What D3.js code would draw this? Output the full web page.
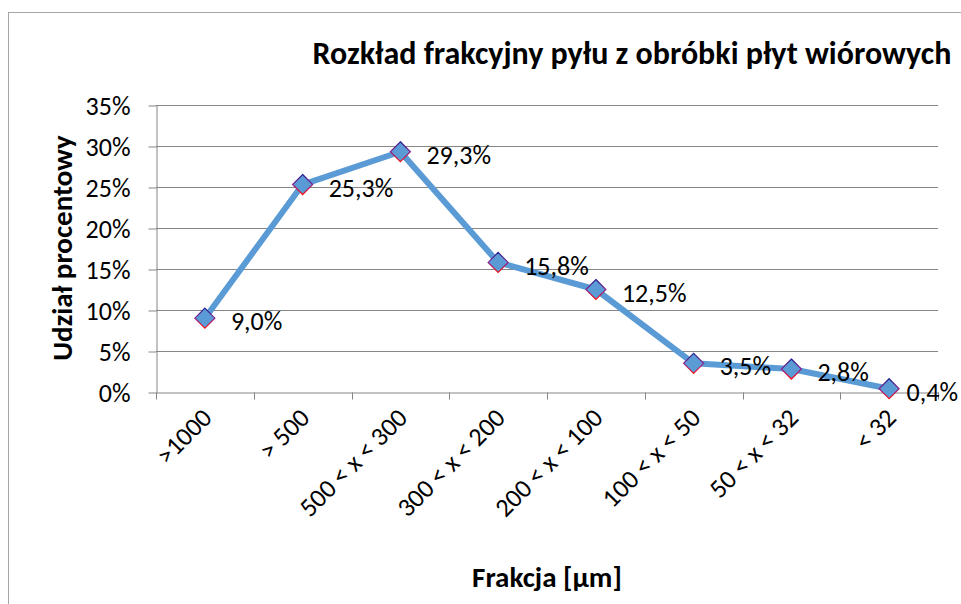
<!DOCTYPE html>
<html lang="pl">
<head>
<meta charset="UTF-8">
<title>Rozkład frakcyjny</title>
<script src="https://d3js.org/d3.v7.min.js"></script>
<style>
  body { margin: 0; background: #fff; }
  svg text { font-family: Carlito, Calibri, Lato, sans-serif; fill: #000; }
  .grid line { stroke: #868686; stroke-width: 1; }
  .axis path, .axis line { stroke: #868686; }
  .axis text { font-size: 26px; }
</style>
</head>
<body>
<script>
const categories = ['>1000', '> 500', '500 < x < 300', '300 < x < 200', '200 < x < 100', '100 < x < 50', '50 < x < 32', '< 32'];
const values = [9.0, 25.3, 29.3, 15.8, 12.5, 3.5, 2.8, 0.4];
const yTicks = [0, 5, 10, 15, 20, 25, 30, 35];

const width = 961, height = 604;
const plot = { left: 156, right: 938, top: 105, bottom: 392 };

const svg = d3.select('body').append('svg').attr('width', width).attr('height', height);

// chart frame
svg.append('rect')
  .attr('x', 8.5).attr('y', 12.5).attr('width', 1000).attr('height', 1000)
  .attr('fill', '#fff').attr('stroke', '#a6a6a6');

const x = d3.scaleBand().domain(categories).range([plot.left, plot.right]);
const y = d3.scaleLinear().domain([0, 35]).range([plot.bottom, plot.top]);

// gridlines
svg.append('g').attr('class', 'grid')
  .selectAll('line').data(yTicks.filter(d => d > 0)).enter().append('line')
  .attr('x1', plot.left).attr('x2', plot.right)
  .attr('y1', d => Math.round(y(d)) + 0.5).attr('y2', d => Math.round(y(d)) + 0.5);

// y axis
const yAxis = svg.append('g').attr('class', 'axis')
  .attr('transform', `translate(${plot.left + 0.5},0.5)`)
  .call(d3.axisLeft(y).tickValues(yTicks).tickSize(8).tickSizeOuter(0).tickPadding(18).tickFormat(d => d + '%'));
yAxis.selectAll('text').attr('dy', '0.35em');

// x axis
const xAxis = svg.append('g').attr('class', 'axis')
  .attr('transform', `translate(0.5,${plot.bottom + 0.5})`)
  .call(d3.axisBottom(x).tickSize(0).tickFormat(''));
xAxis.selectAll('.tick').remove();
xAxis.selectAll('.xt').data(categories.concat(['__end'])).enter().append('line')
  .attr('x1', (d, i) => Math.round(plot.left + i * x.step()))
  .attr('x2', (d, i) => Math.round(plot.left + i * x.step()))
  .attr('y1', 0).attr('y2', 7)
  .attr('stroke', '#868686');

svg.append('g').selectAll('text').data(categories).enter().append('text')
  .attr('transform', d => `translate(${x(d) + x.bandwidth() / 2 + 2},${plot.bottom + 21}) rotate(-45)`)
  .attr('text-anchor', 'end')
  .attr('dy', '0.35em')
  .attr('font-size', 26)
  .text(d => d);

// marker gradient for outline
const grad = svg.append('defs').append('linearGradient')
  .attr('id', 'mk').attr('x1', 0).attr('y1', 0).attr('x2', 0).attr('y2', 1);
grad.append('stop').attr('offset', '0%').attr('stop-color', '#1f1f8f');
grad.append('stop').attr('offset', '50%').attr('stop-color', '#8a1f8f');
grad.append('stop').attr('offset', '100%').attr('stop-color', '#ff1010');

const pts = categories.map((c, i) => ({ c, v: values[i] }));

svg.append('path').datum(pts)
  .attr('fill', 'none')
  .attr('stroke', '#5b9bd5')
  .attr('stroke-width', 6)
  .attr('stroke-linejoin', 'round')
  .attr('d', d3.line().x(d => x(d.c) + x.bandwidth() / 2).y(d => y(d.v)));

svg.append('g').selectAll('path').data(pts).enter().append('path')
  .attr('d', 'M0,-10L10,0L0,10L-10,0Z')
  .attr('transform', d => `translate(${x(d.c) + x.bandwidth() / 2},${y(d.v)})`)
  .attr('fill', '#5b9bd5')
  .attr('stroke', 'url(#mk)')
  .attr('stroke-width', 1.2);

// data labels
svg.append('g').selectAll('text').data(pts).enter().append('text')
  .attr('x', d => x(d.c) + x.bandwidth() / 2 + 26)
  .attr('y', d => y(d.v) + 3)
  .attr('dy', '0.35em')
  .attr('font-size', 26)
  .text(d => d.v.toFixed(1).replace('.', ',') + '%')
  .each(function () {
    const w = this.getComputedTextLength();
    const xx = +this.getAttribute('x');
    if (xx + w > 958) this.setAttribute('x', 958 - w);
  });

// title
svg.append('text')
  .attr('x', 632).attr('y', 64)
  .attr('text-anchor', 'middle')
  .attr('font-size', 32).attr('font-weight', 'bold')
  .text('Rozkład frakcyjny pyłu z obróbki płyt wiórowych');

// axis titles
svg.append('text')
  .attr('transform', `translate(${72},${248}) rotate(-90)`)
  .attr('text-anchor', 'middle')
  .attr('font-size', 29).attr('font-weight', 'bold')
  .text('Udział procentowy');

svg.append('text')
  .attr('x', (plot.left + plot.right) / 2).attr('y', 587)
  .attr('text-anchor', 'middle')
  .attr('font-size', 29).attr('font-weight', 'bold')
  .text('Frakcja [µm]');
</script>
</body>
</html>
